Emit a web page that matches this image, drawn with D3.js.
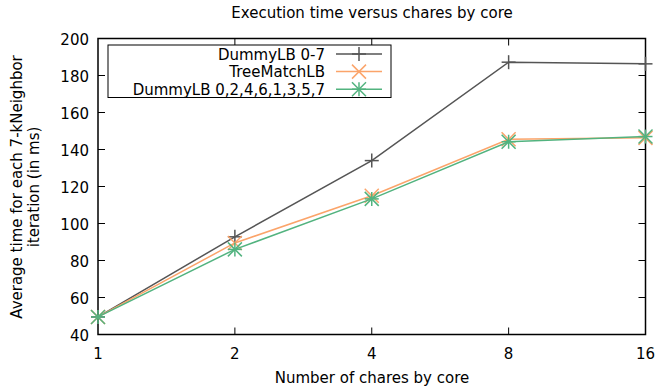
<!DOCTYPE html>
<html>
<head>
<meta charset="utf-8">
<script src="https://cdn.jsdelivr.net/npm/d3@7"></script>
<style>
  body { margin: 0; background: #fff; }
  text { font-family: "DejaVu Sans", sans-serif; fill: #000; }
</style>
</head>
<body>
<div id="chart"></div>
<script>
const chares = [1, 2, 4, 8, 16];
const yTicks = [40, 60, 80, 100, 120, 140, 160, 180, 200];
const dummyLB = [49.5, 92.8, 134, 187.2, 186.3];
const treeMatch = [49.5, 89.5, 115, 145.5, 146.3];
const dummyLBInter = [49.5, 86, 113.3, 144.2, 147];

const series = [
  { name: "DummyLB 0-7", values: dummyLB, color: "#555555", marker: "plus" },
  { name: "TreeMatchLB", values: treeMatch, color: "#fba46a", marker: "cross" },
  { name: "DummyLB 0,2,4,6,1,3,5,7", values: dummyLBInter, color: "#52b37f", marker: "star" }
];

const width = 659, height = 387;
const plotL = 98, plotR = 645.5, plotT = 38.5, plotB = 334.5;
const fs = 15;

const svg = d3.select("#chart").append("svg")
  .attr("width", width)
  .attr("height", height);

const x = d3.scaleLog().base(2).domain([1, 16]).range([plotL, plotR]);
const y = d3.scaleLinear().domain([40, 200]).range([plotB, plotT]);

// ticks (inward, mirrored)
const tickLen = 7;
const tk = svg.append("g").attr("stroke", "#000").attr("stroke-width", 1);
yTicks.forEach(v => {
  if (v === 40 || v === 200) return;
  tk.append("line").attr("x1", plotL).attr("x2", plotL + tickLen).attr("y1", y(v)).attr("y2", y(v));
  tk.append("line").attr("x1", plotR).attr("x2", plotR - tickLen).attr("y1", y(v)).attr("y2", y(v));
});
chares.forEach(v => {
  if (v === 1 || v === 16) return;
  tk.append("line").attr("x1", x(v)).attr("x2", x(v)).attr("y1", plotB).attr("y2", plotB - tickLen);
  tk.append("line").attr("x1", x(v)).attr("x2", x(v)).attr("y1", plotT).attr("y2", plotT + tickLen);
});

// tick labels
svg.append("g").selectAll("text").data(yTicks).enter().append("text")
  .attr("x", plotL - 9).attr("y", d => y(d) + 6)
  .attr("text-anchor", "end").attr("font-size", fs)
  .text(d => d);
svg.append("g").selectAll("text").data(chares).enter().append("text")
  .attr("x", d => x(d)).attr("y", plotB + 24)
  .attr("text-anchor", "middle").attr("font-size", fs)
  .text(d => d);

// frame
svg.append("rect").attr("x", plotL).attr("y", plotT)
  .attr("width", plotR - plotL).attr("height", plotB - plotT)
  .attr("fill", "none").attr("stroke", "#000").attr("stroke-width", 1.5);

// titles
svg.append("text").attr("x", 372).attr("y", 18).attr("text-anchor", "middle")
  .attr("font-size", fs).text("Execution time versus chares by core");
svg.append("text").attr("x", 372).attr("y", 383).attr("text-anchor", "middle")
  .attr("font-size", fs).text("Number of chares by core");
svg.append("text").attr("transform", "translate(22,187) rotate(-90)")
  .attr("text-anchor", "middle").attr("font-size", fs)
  .text("Average time for each 7-kNeighbor");
svg.append("text").attr("transform", "translate(39,187) rotate(-90)")
  .attr("text-anchor", "middle").attr("font-size", fs)
  .text("iteration (in ms)");

function drawMarker(g, type, cx, cy, color) {
  const s = 7;
  const segs = [];
  if (type === "plus" || type === "star") {
    segs.push([cx - s, cy, cx + s, cy], [cx, cy - s, cx, cy + s]);
  }
  if (type === "cross" || type === "star") {
    segs.push([cx - s, cy - s, cx + s, cy + s], [cx - s, cy + s, cx + s, cy - s]);
  }
  segs.forEach(p => {
    g.append("line").attr("x1", p[0]).attr("y1", p[1]).attr("x2", p[2]).attr("y2", p[3])
      .attr("stroke", color).attr("stroke-width", 1.5);
  });
}

const line = d3.line().x((d, i) => x(chares[i])).y(d => y(d));

// legend
const legend = svg.append("g");
legend.append("rect").attr("x", 108).attr("y", 45).attr("width", 283).attr("height", 52.5)
  .attr("fill", "#fff").attr("stroke", "#000").attr("stroke-width", 1);
series.forEach((s, i) => {
  const ly = 54 + i * 17.6;
  legend.append("text").attr("x", 325).attr("y", ly + 5.5)
    .attr("text-anchor", "end").attr("font-size", fs).text(s.name);
  legend.append("line").attr("x1", 336).attr("x2", 382).attr("y1", ly).attr("y2", ly)
    .attr("stroke", s.color).attr("stroke-width", 1.5);
  drawMarker(legend, s.marker, 359, ly, s.color);
});

// series
series.forEach(s => {
  const g = svg.append("g");
  g.append("path").datum(s.values).attr("d", line)
    .attr("fill", "none").attr("stroke", s.color).attr("stroke-width", 1.5);
  s.values.forEach((v, i) => drawMarker(g, s.marker, x(chares[i]), y(v), s.color));
});
</script>
</body>
</html>
